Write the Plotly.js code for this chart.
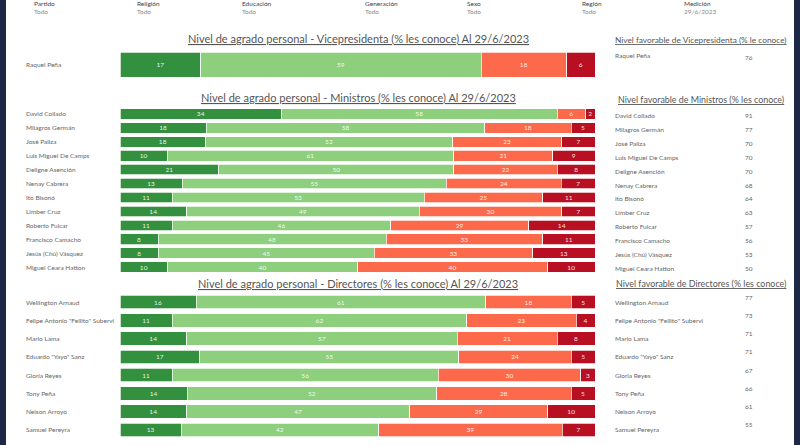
<!DOCTYPE html>
<html>
<head>
<meta charset="utf-8">
<script src="https://cdn.plot.ly/plotly-3.0.1.min.js"></script>
<style>html,body{margin:0;padding:0;background:#fff;}#chart{width:800px;height:445px;}</style>
</head>
<body>
<div id="chart"></div>
<script>
// ---- Filters header ----
const filterLabels = ['Partido', 'Religión', 'Educación', 'Generación', 'Sexo', 'Región', 'Medición'];
const filterValues = ['Todo', 'Todo', 'Todo', 'Todo', 'Todo', 'Todo', '29/6/2023'];

// ---- Vicepresidenta ----
const vpNames = ['Raquel Peña'];
const vpMuyFav = [17];
const vpAlgoFav = [59];
const vpAlgoDesf = [18];
const vpMuyDesf = [6];
const vpFavorable = [76];

// ---- Ministros ----
const minNames = ['David Collado', 'Milagros Germán', 'José Paliza', 'Luis Miguel De Camps', 'Deligne Asención',
  'Nenay Cabrera', 'Ito Bisonó', 'Limber Cruz', 'Roberto Fulcar', 'Francisco Camacho', 'Jesús (Chú) Vásquez', 'Miguel Ceara Hatton'];
const minMuyFav = [34, 18, 18, 10, 21, 13, 11, 14, 11, 8, 8, 10];
const minAlgoFav = [58, 58, 52, 61, 50, 55, 53, 49, 46, 48, 45, 40];
const minAlgoDesf = [6, 18, 23, 21, 22, 24, 25, 30, 29, 33, 33, 40];
const minMuyDesf = [2, 5, 7, 9, 8, 7, 11, 7, 14, 11, 13, 10];
const minFavorable = [91, 77, 70, 70, 70, 68, 64, 63, 57, 56, 53, 50];

// ---- Directores ----
const dirNames = ['Wellington Arnaud', 'Felipe Antonio "Fellito" Subervi', 'Mario Lama', 'Eduardo "Yayo" Sanz',
  'Gloria Reyes', 'Tony Peña', 'Nelson Arroyo', 'Samuel Pereyra'];
const dirMuyFav = [16, 11, 14, 17, 11, 14, 14, 13];
const dirAlgoFav = [61, 62, 57, 55, 56, 52, 47, 42];
const dirAlgoDesf = [18, 23, 21, 24, 30, 28, 29, 39];
const dirMuyDesf = [5, 4, 8, 5, 3, 5, 10, 7];
const dirFavorable = [77, 73, 71, 71, 67, 66, 61, 55];

const seriesNames = ['Muy favorable', 'Algo favorable', 'Algo desfavorable', 'Muy desfavorable'];
const colors = ['#33903f', '#8dcf7c', '#fc6a4b', '#b90f22'];

const H = 445;
const py = p => 1 - p / H;
const FONT = 'Lato, "Open Sans", sans-serif';

function groupTraces(names, series, xa, ya, width) {
  return series.map((vals, i) => ({
    type: 'bar', orientation: 'h',
    y: names, x: vals, text: vals.map(String),
    name: seriesNames[i], showlegend: false,
    xaxis: xa, yaxis: ya, width: width,
    marker: {color: colors[i], line: {color: 'rgba(255,255,255,0.9)', width: 0.8}},
    textposition: 'inside', insidetextanchor: 'middle', textangle: 0,
    textfont: {family: FONT, size: 6.5, color: 'rgba(255,255,255,0.9)'},
    hoverinfo: 'skip'
  }));
}

const data = [
  ...groupTraces(vpNames, [vpMuyFav, vpAlgoFav, vpAlgoDesf, vpMuyDesf], 'x', 'y', 1),
  ...groupTraces(minNames, [minMuyFav, minAlgoFav, minAlgoDesf, minMuyDesf], 'x2', 'y2', 0.76),
  ...groupTraces(dirNames, [dirMuyFav, dirAlgoFav, dirAlgoDesf, dirMuyDesf], 'x3', 'y3', 0.74)
];

const xdom = [120 / 800, 595 / 800];
const xaxBase = {domain: xdom, range: [0, 100], visible: false, fixedrange: true};
function yax(n, top, bottom) {
  return {domain: [py(bottom), py(top)], type: 'category', range: [n - 0.5, -0.5],
    visible: false, fixedrange: true};
}

const annotations = [];
const ul = t => '<span style="text-decoration:underline">' + t + '</span>';

// header filters
const filterX = [32, 135, 240, 363, 465, 580, 682];
filterLabels.forEach((l, i) => {
  annotations.push({xref: 'paper', yref: 'paper', x: filterX[i] / 800, y: py(3.5), xanchor: 'left', yanchor: 'middle',
    text: l, showarrow: false, font: {family: FONT, size: 6.5, color: '#444'}});
  annotations.push({xref: 'paper', yref: 'paper', x: filterX[i] / 800, y: py(11), xanchor: 'left', yanchor: 'middle',
    text: filterValues[i], showarrow: false, font: {family: FONT, size: 6.5, color: '#888'}});
});

// chart titles
const titles = [
  ['Nivel de agrado personal - Vicepresidenta (% les conoce) Al 29/6/2023', 38],
  ['Nivel de agrado personal - Ministros (% les conoce) Al 29/6/2023', 97],
  ['Nivel de agrado personal - Directores (% les conoce) Al 29/6/2023', 283]
];
titles.forEach(([t, y]) => annotations.push({xref: 'paper', yref: 'paper', x: 358 / 800, y: py(y),
  xanchor: 'center', yanchor: 'middle', text: ul(t), showarrow: false,
  font: {family: FONT, size: 11, color: '#555'}}));

// right panel titles
const rtitles = [
  ['Nivel favorable de Vicepresidenta (% le conoce)', 40, 8.3],
  ['Nivel favorable de Ministros (% les conoce)', 99, 8.9],
  ['Nivel favorable de Directores (% les conoce)', 283, 8.9]
];
rtitles.forEach(([t, y, s]) => annotations.push({xref: 'paper', yref: 'paper', x: 701 / 800, y: py(y),
  xanchor: 'center', yanchor: 'middle', text: ul(t), showarrow: false,
  font: {family: FONT, size: s, color: '#555'}}));

// row labels (left) and right panel rows
function rows(names, fav, yref, rightNameShift, rightValShift) {
  names.forEach((n, i) => {
    annotations.push({xref: 'paper', yref: yref, x: 24 / 800, y: n, xanchor: 'left', yanchor: 'middle',
      text: n, showarrow: false, font: {family: FONT, size: 6.5, color: '#666'}});
    annotations.push({xref: 'paper', yref: yref, x: 613 / 800, y: n, xanchor: 'left', yanchor: 'middle',
      yshift: rightNameShift, text: n, showarrow: false, font: {family: FONT, size: 6.5, color: '#666'}});
    annotations.push({xref: 'paper', yref: yref, x: 749 / 800, y: n, xanchor: 'center', yanchor: 'middle',
      yshift: rightValShift, text: String(fav[i]), showarrow: false, font: {family: FONT, size: 6.5, color: '#666'}});
  });
}
rows(vpNames, vpFavorable, 'y', 9, 7);
rows(minNames, minFavorable, 'y2', -1.5, -1.5);
rows(dirNames, dirFavorable, 'y3', 0, 5);

const layout = {
  width: 800, height: 445,
  margin: {l: 0, r: 0, t: 0, b: 0},
  paper_bgcolor: '#ffffff', plot_bgcolor: 'rgba(0,0,0,0)',
  barmode: 'stack', barnorm: 'percent',
  uniformtext: {mode: 'show', minsize: 6.5},
  showlegend: false,
  xaxis: Object.assign({anchor: 'y'}, xaxBase),
  xaxis2: Object.assign({anchor: 'y2'}, xaxBase),
  xaxis3: Object.assign({anchor: 'y3'}, xaxBase),
  yaxis: Object.assign({anchor: 'x'}, yax(vpNames.length, 52, 77)),
  yaxis2: Object.assign({anchor: 'x2'}, yax(minNames.length, 107, 274)),
  yaxis3: Object.assign({anchor: 'x3'}, yax(dirNames.length, 293, 439)),
  annotations: annotations,
  shapes: [
    {type: 'rect', xref: 'paper', yref: 'paper', x0: 0, x1: 6 / 800, y0: 0, y1: 1, fillcolor: '#1d2846', line: {width: 0}, layer: 'above'},
    {type: 'rect', xref: 'paper', yref: 'paper', x0: 794 / 800, x1: 1, y0: 0, y1: 1, fillcolor: '#1d2846', line: {width: 0}, layer: 'above'}
  ]
};

Plotly.newPlot('chart', data, layout, {staticPlot: true, displayModeBar: false});
</script>
</body>
</html>
